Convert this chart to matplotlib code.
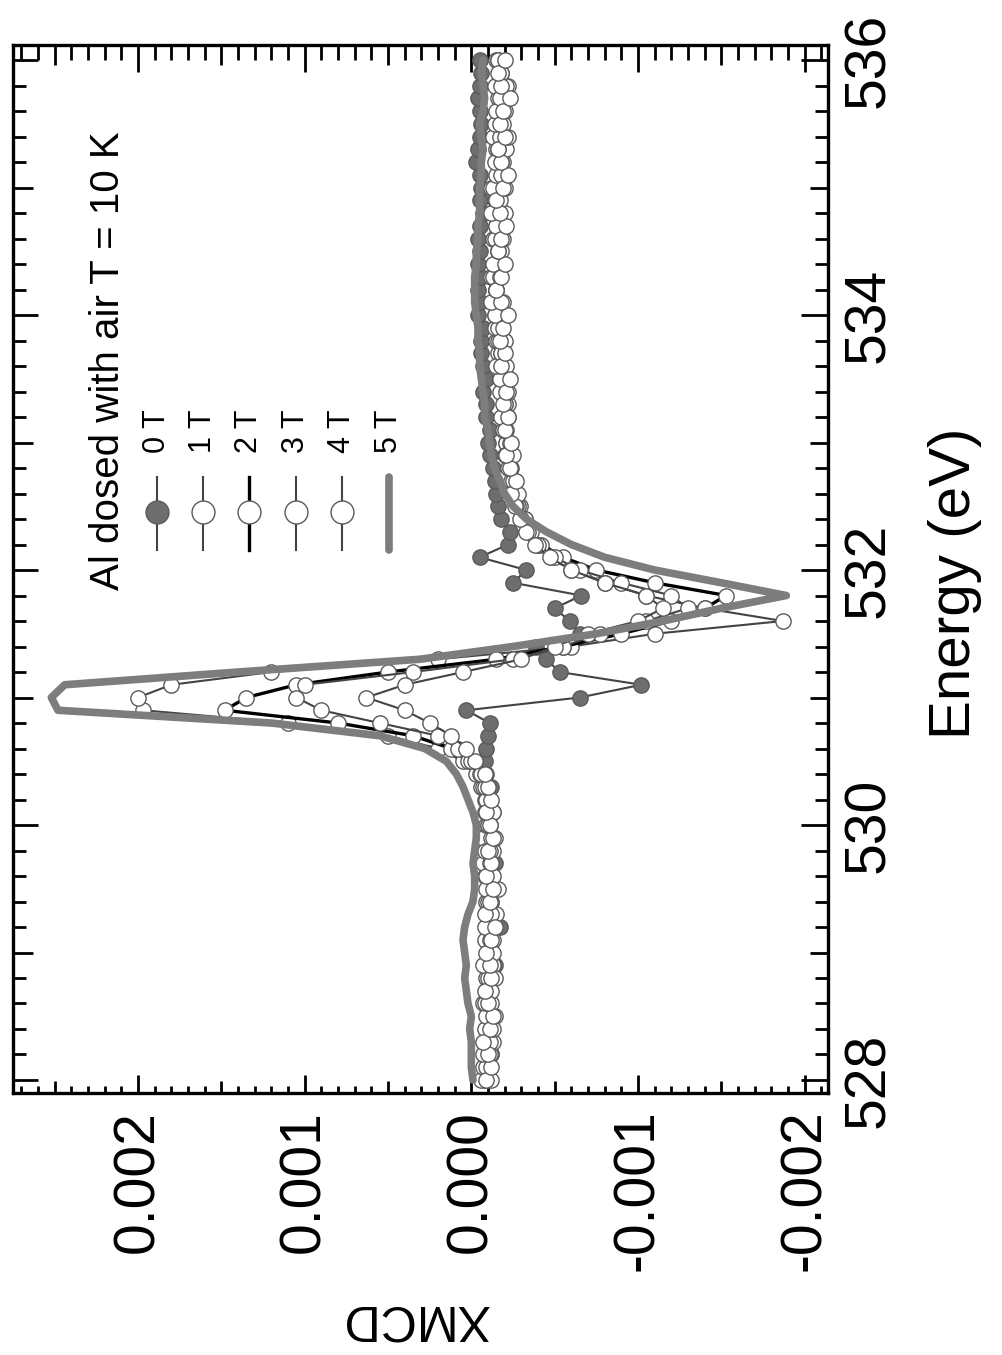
import numpy as np
import matplotlib
matplotlib.use("Agg")
import matplotlib.pyplot as plt
from matplotlib.ticker import FixedLocator, MultipleLocator, FuncFormatter

plt.rcParams['font.family'] = ['Liberation Sans', 'DejaVu Sans']

# photon energy (eV)
energy = [528.0, 528.1, 528.2, 528.3, 528.4, 528.5, 528.6, 528.7, 528.8, 528.9,
          529.0, 529.1, 529.2, 529.3, 529.4, 529.5, 529.6, 529.7, 529.8, 529.9,
          530.0, 530.1, 530.2, 530.3, 530.4, 530.5, 530.6, 530.7, 530.8, 530.9,
          531.0, 531.1, 531.2, 531.3, 531.4, 531.5, 531.6, 531.7, 531.8, 531.9,
          532.0, 532.1, 532.2, 532.3, 532.4, 532.5, 532.6, 532.7, 532.8, 532.9,
          533.0, 533.1, 533.2, 533.3, 533.4, 533.5, 533.6, 533.7, 533.8, 533.9,
          534.0, 534.1, 534.2, 534.3, 534.4, 534.5, 534.6, 534.7, 534.8, 534.9,
          535.0, 535.1, 535.2, 535.3, 535.4, 535.5, 535.6, 535.7, 535.8, 535.9,
          536.0]

xmcd_0T = np.array([
    -8, -10, -12, -9, -11, -13, -10, -9, -12, -14,
    -11, -10, -17, -13, -12, -10, -11, -14, -12, -9,
    -11, -13, -10, -12, -9, -8, -9, -10, -11, 3,
    -65, -102, -53, -45, -39, -65, -59, -50, -66, -25,
    -33, -5, -22, -23, -18, -16, -15, -14, -13, -11,
    -10, -11, -9, -9, -7, -9, -7, -6, -6, -7,
    -4, -5, -4, -6, -4, -5, -4, -5, -7, -5,
    -6, -5, -3, -4, -5, -6, -5, -4, -5, -6,
    -5]) * 1e-5
xmcd_1T = np.array([
    -6, -9, -12, -8, -10, -14, -7, -11, -9, -13,
    -10, -8, -12, -15, -9, -11, -8, -10, -13, -7,
    -9, -12, -8, -6, -3, 5, 20, 50, 110, 197,
    200, 180, 120, 20, -60, -110, -187, -140, -105, -80,
    -60, -48, -40, -35, -32, -29, -27, -26, -24, -22,
    -21, -20, -19, -22, -18, -17, -19, -16, -15, -17,
    -14, -13, -15, -12, -14, -16, -13, -15, -18, -14,
    -12, -16, -19, -15, -13, -17, -20, -16, -14, -18,
    -15]) * 1e-5
xmcd_2T = np.array([
    -10, -7, -11, -13, -8, -10, -12, -9, -14, -8,
    -11, -13, -9, -10, -12, -16, -10, -7, -11, -14,
    -10, -8, -11, -7, -5, 2, 12, 35, 80, 148,
    135, 105, 50, -15, -55, -90, -120, -140, -153, -110,
    -75, -55, -42, -36, -32, -28, -26, -24, -23, -25,
    -21, -19, -22, -20, -17, -19, -21, -18, -16, -14,
    -17, -19, -15, -13, -16, -18, -14, -17, -20, -16,
    -13, -15, -18, -21, -17, -14, -16, -19, -22, -17,
    -16]) * 1e-5
xmcd_3T = np.array([
    -12, -9, -7, -11, -13, -9, -8, -12, -10, -7,
    -13, -11, -8, -12, -10, -9, -13, -11, -8, -12,
    -10, -13, -9, -8, -6, 0, 8, 20, 55, 90,
    105, 100, 35, -25, -55, -77, -105, -130, -120, -90,
    -65, -50, -40, -34, -30, -27, -28, -25, -22, -20,
    -23, -21, -18, -20, -22, -17, -15, -18, -20, -16,
    -14, -12, -15, -17, -13, -16, -19, -15, -12, -17,
    -20, -18, -14, -16, -22, -19, -15, -17, -21, -18,
    -16]) * 1e-5
xmcd_4T = np.array([
    -9, -12, -10, -7, -11, -13, -10, -8, -12, -11,
    -9, -12, -14, -8, -11, -13, -9, -12, -10, -13,
    -11, -9, -12, -10, -8, -2, 3, 12, 25, 40,
    63, 40, 5, -30, -50, -70, -100, -115, -105, -80,
    -60, -47, -38, -33, -29, -26, -24, -27, -23, -21,
    -24, -20, -22, -19, -21, -23, -18, -20, -17, -19,
    -22, -18, -15, -18, -20, -16, -18, -21, -17, -15,
    -19, -22, -18, -16, -20, -17, -19, -23, -18, -16,
    -20]) * 1e-5
xmcd_5T = np.array([
    -1, 0, 0, 0, 1, 0, 2, 3, 4, 3,
    4, 5, 4, 2, -1, -2, -2, -1, -2, -3,
    -3, -1, 2, 5, 9, 15, 28, 55, 120, 248,
    252, 244, 140, 31, -25, -75, -115, -150, -189, -150,
    -110, -80, -60, -45, -33, -25, -20, -17, -14, -12,
    -11, -10, -8, -8, -7, -6, -5, -5, -4, -4,
    -3, -2, -2, -2, -3, -3, -4, -4, -5, -5,
    -5, -6, -6, -7, -6, -5, -7, -8, -7, -6,
    -7]) * 1e-5

labels = ['0 T', '1 T', '2 T', '3 T', '4 T', '5 T']
title = 'Al dosed with air T = 10 K'

xmcd_ticks = [-0.002, -0.001, 0.0, 0.001, 0.002]
energy_ticks = [528, 530, 532, 534, 536]

gray = '#7d7d7d'
edge = '#5a5a5a'

fig = plt.figure(figsize=(10.03, 13.55), dpi=100)
ax = fig.add_axes([13 / 1003, 1 - 1093 / 1355, 815 / 1003, 1048 / 1355])

# the figure is drawn turned by 90 degrees: energy runs upward, XMCD leftward
styles = [
    dict(color='#444444', lw=1.5, marker='o', ms=11, mfc='#6e6e6e', mec=edge, mew=1.0),
    dict(color='#444444', lw=1.5, marker='o', ms=11, mfc='white', mec=edge, mew=1.0),
    dict(color='black', lw=2.4, marker='o', ms=11, mfc='white', mec=edge, mew=1.0),
    dict(color='#444444', lw=1.5, marker='o', ms=11, mfc='white', mec=edge, mew=1.0),
    dict(color='#444444', lw=1.5, marker='o', ms=11, mfc='white', mec=edge, mew=1.0),
    dict(color=gray, lw=5.5, solid_joinstyle='round', solid_capstyle='round'),
]
series = [xmcd_0T, xmcd_1T, xmcd_2T, xmcd_3T, xmcd_4T, xmcd_5T]

for s, st in zip(series[:5], styles[:5]):
    ax.plot(s, energy, zorder=2, **st)
ax.plot(xmcd_5T, energy, zorder=3, **styles[5])

ax.set_xlim(0.00275, -0.00214)
ax.set_ylim(527.898, 536.118)

# ticks
ax.xaxis.set_major_locator(FixedLocator([-0.002, -0.0015, -0.001, -0.0005, 0.0,
                                         0.0005, 0.001, 0.0015, 0.002, 0.0025]))
ax.xaxis.set_minor_locator(MultipleLocator(0.0001))
ax.xaxis.set_major_formatter(FuncFormatter(
    lambda v, p: (f"{v:.3f}".replace('-0.000', '0.000')
                  if any(abs(v - t) < 1e-9 for t in xmcd_ticks) else "")))
ax.yaxis.set_major_locator(FixedLocator(list(range(528, 537))))
ax.yaxis.set_minor_locator(MultipleLocator(0.2))
ax.yaxis.set_major_formatter(FuncFormatter(
    lambda v, p: f"{v:.0f}" if round(v) in energy_ticks else ""))

ax.tick_params(axis='both', which='both', direction='in', width=2.0,
               top=True, bottom=True, left=True, right=True)
ax.tick_params(axis='x', labelsize=41, labelrotation=90, pad=12)
ax.tick_params(axis='y', labelsize=41, labelrotation=90, pad=10,
               labelleft=False, labelright=True)
for lab in ax.get_yticklabels():
    lab.set_va('center')
for lab in ax.get_xticklabels():
    lab.set_ha('center')
for sp in ax.spines.values():
    sp.set_linewidth(2.4)

fig.canvas.draw()
for t in ax.xaxis.get_major_ticks():
    v = t.get_loc()
    if any(abs(v - k) < 1e-9 for k in xmcd_ticks):
        t.tick1line.set_markersize(13)
        t.tick2line.set_markersize(19.5)
    else:
        t.tick1line.set_markersize(8.6)
        t.tick2line.set_markersize(14.4)
for t in ax.xaxis.get_minor_ticks():
    t.tick1line.set_markersize(5)
    t.tick2line.set_markersize(10.8)
for t in ax.yaxis.get_major_ticks():
    v = t.get_loc()
    if round(v) in energy_ticks:
        t.tick1line.set_markersize(18)
        t.tick2line.set_markersize(19.5)
    else:
        t.tick1line.set_markersize(14.4)
        t.tick2line.set_markersize(13)
for t in ax.yaxis.get_minor_ticks():
    t.tick1line.set_markersize(9.4)
    t.tick2line.set_markersize(9.4)

# axis titles
ax.text(1.156, 0.4866, 'Energy (eV)', transform=ax.transAxes, rotation=90,
        ha='center', va='center', fontsize=42)
ax.text(0.493, -0.2147, 'XMCD', transform=ax.transAxes, rotation=180,
        ha='center', va='center', fontsize=36)

# legend, turned like the rest
ax.text(0.117, 0.48, title, transform=ax.transAxes, rotation=90,
        ha='center', va='bottom', fontsize=29)
leg_x = [0.1767, 0.2331, 0.2896, 0.3472, 0.4037, 0.4613]
for lx, lab, st in zip(leg_x, labels, styles):
    kw = dict(st)
    if 'ms' in kw:
        kw['ms'] = 16.5
    ax.plot([lx, lx, lx], [0.518, 0.5544, 0.5878], transform=ax.transAxes,
            markevery=[1], clip_on=False, **kw)
    ax.text(lx, 0.6107, lab, transform=ax.transAxes, rotation=90,
            ha='center', va='bottom', fontsize=22)

fig.savefig('out.png', dpi=100)
